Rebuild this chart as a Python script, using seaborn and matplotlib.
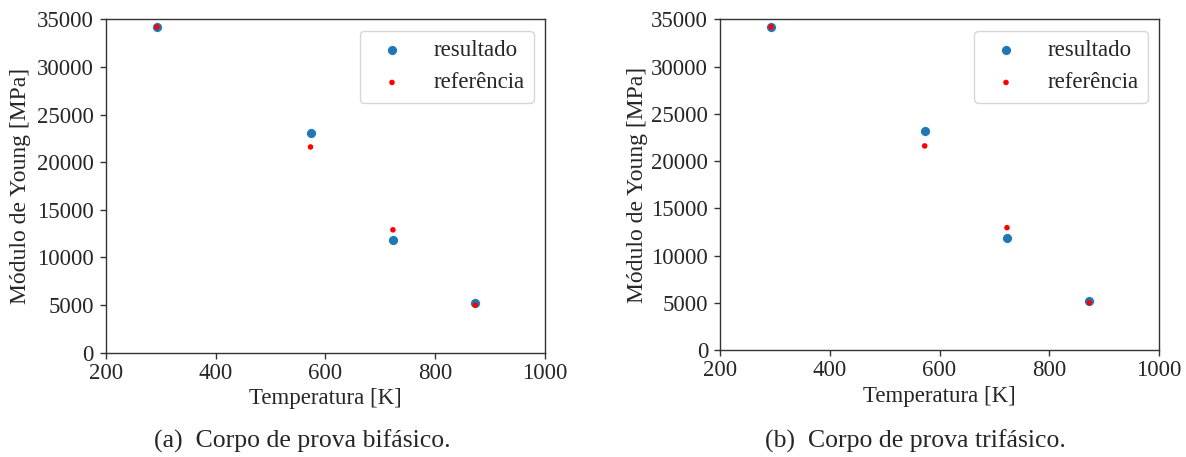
import matplotlib
matplotlib.use("Agg")
import matplotlib.pyplot as plt
import seaborn as sns
import pandas as pd

# Temperatures [K] and Young's modulus [MPa]
temperatura = [293, 573, 723, 873]
resultado_bif = [34200, 23100, 11800, 5200]
referencia_bif = [34200, 21600, 12900, 5000]
resultado_tri = [34200, 23150, 11850, 5200]
referencia_tri = [34200, 21600, 12950, 5000]

x_ticks = [200, 400, 600, 800, 1000]
y_ticks = [0, 5000, 10000, 15000, 20000, 25000, 30000, 35000]
captions = ["(a)  Corpo de prova bifásico.", "(b)  Corpo de prova trifásico."]

sns.set_style("ticks")
plt.rcParams["font.family"] = ["Liberation Serif", "DejaVu Serif"]

W, H = 1186, 457
fig = plt.figure(figsize=(W / 100, H / 100), dpi=100)

# axes boxes in pixels: left, top, right, bottom
boxes = [(105.7, 19.3, 545, 352.7), (720, 19.3, 1159, 350)]
caption_x = [302, 915]
ylabel_x = [21, 638]
panels = [(resultado_bif, referencia_bif), (resultado_tri, referencia_tri)]

FS = 16.5
for (l, t, r, b), (res, ref), cap, cx, yx in zip(boxes, panels, captions,
                                                 caption_x, ylabel_x):
    ax = fig.add_axes([l / W, 1 - b / H, (r - l) / W, (b - t) / H])
    df_res = pd.DataFrame({"T": temperatura, "E": res})
    df_ref = pd.DataFrame({"T": temperatura, "E": ref})
    sns.scatterplot(data=df_res, x="T", y="E", ax=ax, color="#1f77b4",
                    s=52, edgecolor="white", linewidth=0.6, label="resultado")
    sns.scatterplot(data=df_ref, x="T", y="E", ax=ax, color="red",
                    s=16, edgecolor="none", label="referência")
    ax.set_xlim(200, 1000)
    ax.set_ylim(0, 35000)
    ax.set_xticks(x_ticks)
    ax.set_yticks(y_ticks)
    ax.tick_params(labelsize=FS, length=4, width=1, color="#333333", pad=3.5)
    ax.tick_params(axis="y", pad=4.5)
    for sp in ax.spines.values():
        sp.set_color("#333333")
        sp.set_linewidth(1.0)
    ax.set_xlabel("Temperatura [K]", fontsize=FS, labelpad=3)
    ax.set_ylabel("Módulo de Young [MPa]", fontsize=17, va="center")
    ax.yaxis.set_label_coords(yx / W, 1 - ((t + b) / 2) / H,
                              transform=fig.transFigure)
    leg = ax.legend(loc="upper right", fontsize=FS, frameon=True)
    leg.get_frame().set_edgecolor("#cccccc")
    fig.text(cx / W, 1 - 441.7 / H, cap, ha="center", va="center",
             fontsize=18.5)

fig.savefig("out.png", dpi=100)
